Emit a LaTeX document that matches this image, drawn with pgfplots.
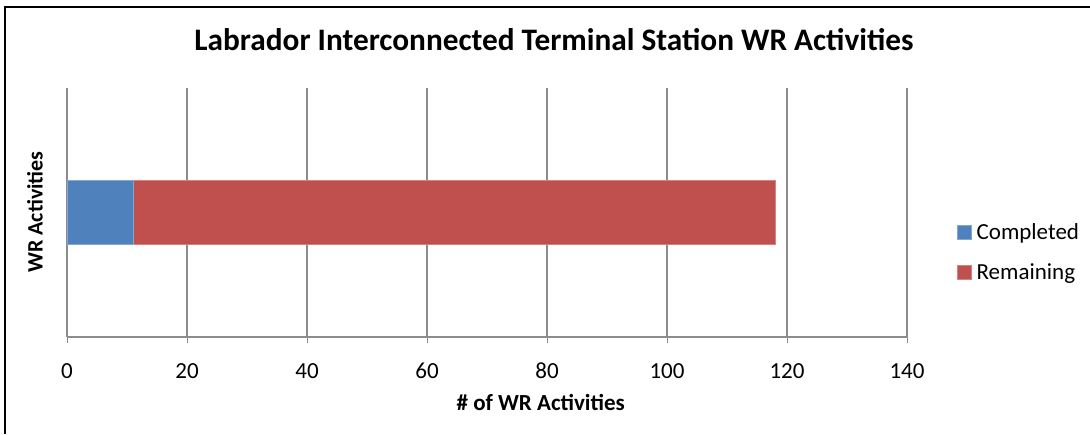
\documentclass[border=0pt]{standalone}
\usepackage{pgfplots}
\pgfplotsset{compat=1.18}
\usepackage{fontspec}
\setmainfont{Carlito}
\definecolor{cblue}{HTML}{4F81BD}
\definecolor{cred}{HTML}{C0504D}
\definecolor{gridgray}{HTML}{8C8C8C}
\begin{document}
\begin{tikzpicture}[x=1pt,y=1pt]
\useasboundingbox (0,0) rectangle (1090,434);
\fill[white] (0,0) rectangle (1090,434);
\draw[black, line width=2pt] (5,0) -- (5,427) -- (1090,427);
\node[font=\fontsize{31.3}{36}\selectfont\bfseries] at (554,394) {Labrador Interconnected Terminal Station WR Activities};
\node[font=\fontsize{22}{26}\selectfont\bfseries, rotate=90] at (35,222) {WR Activities};
\begin{axis}[
  at={(67pt,97pt)}, anchor=south west,
  scale only axis, width=840pt, height=249pt,
  xmin=0, xmax=140, ymin=-1, ymax=1,
  xbar stacked, bar width=64pt,
  axis x line=bottom, axis y line=left,
  axis line style={gridgray, line width=2pt, -},
  xtick={0,20,...,140}, ytick=\empty,
  tick align=outside, major tick length=6pt,
  xtick style={gridgray, line width=1pt},
  xmajorgrids, grid style={gridgray, line width=1.5pt},
  /pgf/number format/assume math mode=true,
  ticklabel style={font=\fontsize{23}{27}\selectfont},
  xticklabel style={anchor=center, yshift=-28pt},
  xlabel={\# of WR Activities},
  xlabel style={font=\fontsize{23}{27}\selectfont\bfseries, at={(0.564,-0.265)}, anchor=center},
  legend style={draw=none, fill=none, at={(1.056,0.34)}, anchor=west,
    font=\fontsize{23}{27}\selectfont, row sep=18pt,
    /tikz/every odd column/.append style={column sep=3pt}},
  legend cell align=left,
  legend image code/.code={\fill[#1] (0pt,-7pt) rectangle (14pt,7pt);},
]
\addplot[fill=cblue, draw=cblue!70!white] coordinates {(11,0)};
\addlegendentry{Completed}
\addplot[fill=cred, draw=cred!70!white] coordinates {(107,0)};
\addlegendentry{Remaining}
\end{axis}
\end{tikzpicture}
\end{document}
